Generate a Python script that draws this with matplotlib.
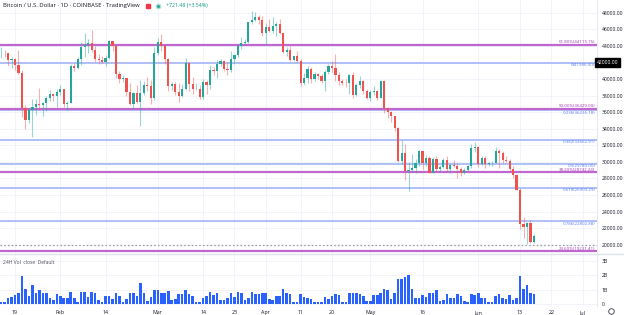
import matplotlib
matplotlib.use('Agg')
import matplotlib.pyplot as plt
import matplotlib.dates as mdates
import matplotlib.transforms as mtransforms
import pandas as pd

plt.rcParams['font.family'] = ['Open Sans', 'DejaVu Sans']

# daily candles, 2022-01-15 .. 2022-06-17
dates = pd.date_range('2022-01-15', '2022-06-17', freq='D')

opens = [43080, 43180, 43090, 42250, 42380, 41700, 40700, 36470, 35080, 36280, 36660, 36960, 36850, 37160, 37720, 38170, 37920,
         38480, 38740, 36950, 37150, 41570, 41380, 42410, 43840, 44110, 44380, 43540, 42400, 42250, 42090, 42580, 44580, 43960,
         40560, 40000, 40090, 38380, 37040, 38270, 37250, 38350, 39230, 39130, 37710,
         43190, 44420, 43920, 42450, 39150, 39400, 38420, 37990, 38740, 41980, 39440, 38730, 38810, 37790, 39670, 39280, 41140,
         40950, 41800, 42190, 41250, 41080, 42380, 42900, 43990, 44330, 44520, 46820, 47130, 47460, 47080,
         45540, 46280, 45820, 46440, 46600, 45510, 43200, 43450, 42290, 42780, 42200, 39530, 40090, 41150, 39950, 40560, 40400,
         39720, 40830, 41520, 41380, 40490, 39720, 39480, 39470, 40460, 38120, 39240, 39750, 38600,
         37650, 38470, 38530, 37750, 39700, 36540, 36020, 35500, 34060, 30090, 31020, 28940, 29040, 29280, 29850, 31300, 29860,
         30430, 28690, 30300, 29180, 29420, 30280, 29090, 29640, 29540, 29190, 28620, 29020, 29450, 31720,
         31790, 29800, 30450, 29690, 29860, 29910, 31360, 31120, 30200, 30100, 29080, 28410, 26580, 22470, 22130, 22580, 20380]
highs = [43800, 43480, 43180, 42680, 42580, 43500, 41100, 36830, 36500, 37550, 37550, 38920, 37230, 38000, 38720, 38360, 38740,
         39270, 38850, 37380, 41770, 41950, 42640, 44500, 45500, 44800, 45850, 43940, 43000, 42760, 42880, 44750, 44580, 44220,
         40980, 40480, 40130, 39500, 38450, 39280, 39840, 39700, 40270, 39870, 43880,
         44980, 45390, 44100, 42520, 39650, 39680, 39550, 39370, 42580, 42040, 40250, 39490, 39310, 39950, 39880, 41720, 41480,
         42330, 42400, 42320, 42000, 43370, 43000, 44200, 45100, 44800, 46900, 48200, 48100, 47700, 47600,
         46700, 47200, 47440, 46880, 47200, 45510, 43900, 43970, 42800, 43430, 42420, 40700, 41560, 41500, 40860, 40700, 40620,
         41120, 41760, 42200, 42990, 40800, 39990, 39950, 40640, 40800, 39460, 40380, 39930, 38800,
         38680, 39170, 38640, 39900, 39850, 36650, 36140, 35500, 34250, 32640, 32190, 30000, 31000, 30300, 31440, 31300, 30770,
         30650, 30530, 30740, 29600, 30420, 30650, 29830, 30180, 29840, 29360, 29200, 29580, 32200,
         32380, 31960, 30650, 30680, 29950, 30160, 31760, 31560, 31300, 30650, 30360, 29440, 28540, 26900, 23350, 22780, 22990, 21350]
lows = [42570, 42690, 41550, 41280, 41140, 40570, 35440, 34010, 34630, 32950, 35700, 36250, 35520, 36170, 37320, 37370, 36650,
        38020, 36630, 36250, 37050, 40960, 41150, 41690, 42690, 43150, 43200, 42000, 41780, 41880, 41580, 42450, 43350, 40120,
        39470, 39680, 38000, 36830, 36400, 37050, 34320, 38030, 38600, 37020, 37480,
        42850, 43350, 41850, 38600, 38620, 38090, 37180, 37880, 38660, 38550, 38240, 38680, 37580, 37580, 38130, 38850, 40530,
        40150, 41550, 40930, 40500, 40890, 41840, 42600, 43600, 44080, 44400, 46650, 46960, 46580, 45220,
        44220, 45630, 45520, 45150, 45380, 43110, 42750, 42110, 42130, 42000, 39200, 39250, 39570, 39570, 39780, 40020, 39560,
        38540, 40570, 40850, 39760, 39220, 39300, 39000, 38230, 37700, 37900, 38900, 38200, 37600,
        37390, 38050, 37510, 37700, 35860, 35270, 34780, 33700, 30040, 29750, 27780, 26530, 28730, 28650, 29460, 29100, 29450,
        28700, 28680, 28740, 28950, 29220, 28880, 28660, 29370, 28020, 28250, 28560, 28850, 29300,
        31220, 29340, 29570, 29300, 29460, 29500, 29890, 29230, 29860, 29980, 28870, 28110, 26560, 21920, 20850, 20080, 20230, 20260]
closes = [43180, 43090, 42250, 42380, 41700, 40700, 36470, 35080, 36280, 36660, 36960, 36850, 37160, 37720, 38170, 37920, 38480,
          38740, 36950, 37150, 41570, 41380, 42410, 43840, 44110, 44380, 43540, 42400, 42250, 42090, 42580, 44580, 43960, 40560,
          40000, 40090, 38380, 37040, 38270, 37250, 38350, 39230, 39130, 37710, 43190,
          44420, 43920, 42450, 39150, 39400, 38420, 37990, 38740, 41980, 39440, 38730, 38810, 37790, 39670, 39280, 41140, 40950,
          41800, 42190, 41250, 41080, 42380, 42900, 43990, 44330, 44520, 46820, 47130, 47460, 47080, 45540,
          46280, 45820, 46440, 46600, 45510, 43200, 43450, 42290, 42780, 42200, 39530, 40090, 41150, 39950, 40560, 40400, 39720,
          40830, 41520, 41380, 40490, 39720, 39480, 39470, 40460, 38120, 39240, 39750, 38600, 37650,
          38470, 38530, 37750, 39700, 36540, 36020, 35500, 34060, 30090, 31020, 28940, 29040, 29280, 29850, 31300, 29860, 30430,
          28690, 30300, 29180, 29420, 30280, 29090, 29640, 29540, 29190, 28620, 29020, 29450, 31720, 31790,
          29800, 30450, 29690, 29860, 29910, 31360, 31120, 30200, 30100, 29080, 28410, 26580, 22470, 22130, 22580, 20380, 21100]
# 24H volume, billions
volumes = [0.18, 0.18, 0.41, 0.53, 0.64, 0.76, 1.95, 1.03, 0.57, 1.33, 0.76, 0.99, 0.80, 0.80, 0.41, 0.30, 0.69,
           0.60, 0.46, 0.41, 0.83, 0.46, 0.18, 0.83, 0.83, 0.53, 0.83, 0.76, 0.30, 0.18, 0.57, 0.57, 0.37, 0.76,
           0.60, 0.18, 0.34, 0.76, 0.80, 0.57, 1.49, 0.76, 0.25, 0.48, 0.99,
           0.99, 0.76, 0.76, 0.92, 0.30, 0.34, 0.69, 0.69, 0.99, 0.69, 0.60, 0.18, 0.18, 0.46, 0.57, 0.87, 0.64,
           0.76, 0.30, 0.30, 0.46, 0.80, 0.53, 0.87, 0.80, 0.30, 0.46, 0.83, 0.69, 0.69, 0.80,
           0.80, 0.34, 0.30, 0.57, 0.57, 1.03, 0.76, 0.69, 0.18, 0.18, 0.69, 0.53, 0.41, 0.37, 0.18, 0.14, 0.14,
           0.48, 0.37, 0.57, 0.69, 0.64, 0.18, 0.18, 0.80, 0.80, 0.80, 0.71, 0.57, 0.23,
           0.23, 0.64, 0.64, 0.80, 1.03, 0.99, 0.34, 0.76, 1.72, 1.72, 1.84, 1.98, 1.05, 0.42, 0.42, 0.65, 0.53,
           0.80, 0.80, 0.97, 0.25, 0.30, 0.72, 0.42, 0.42, 0.72, 0.58, 0.20, 0.15, 0.72, 0.65,
           0.77, 0.46, 0.42, 0.15, 0.15, 0.60, 0.70, 0.46, 0.35, 0.65, 0.30, 0.46, 1.95, 1.05, 1.30, 0.80, 0.72]

fib_magenta = [44115.76, 36429.00, 28742.24, 19231.41]
fib_magenta_labels = ['61.80%(44115.76)', '50.00%(36429.00)', '38.20%(28742.24)', '23.60%(19231.41)']
fib_blue = [41986.00, 36236.18, 32662.91, 29780.00, 26903.29, 22802.88]
fib_blue_labels = ['0(41986.00)', '0.236(36236.18)', '0.382(32662.91)', '0.5(29780.00)', '0.618(26903.29)', '0.786(22802.88)']
dotted_level = 20000
marked_price = 42000

xtick_dates = ['2022-01-19', '2022-02-01', '2022-02-14', '2022-03-01', '2022-03-14', '2022-03-23', '2022-04-01',
               '2022-04-11', '2022-04-20', '2022-05-01', '2022-05-16', '2022-06-01', '2022-06-13', '2022-06-22', '2022-07-01']
xtick_labels = ['19', 'Feb', '14', 'Mar', '14', '23', 'Apr', '11', '20', 'May', '16', 'Jun', '13', '22', 'Jul']
price_ticks = list(range(20000, 48001, 2000))

UP, DOWN = '#26a69a', '#ef5350'
TXT = '#131722'
GRID = '#f0f3fa'

W, H = 624, 315
fig = plt.figure(figsize=(W / 100, H / 100), dpi=100)
ax = fig.add_axes([0, 1 - 253 / H, 597 / W, 253 / H])
axv = fig.add_axes([0, 1 - 306 / H, 597 / W, 52 / H], sharex=ax)

x = mdates.date2num(dates)
x0 = mdates.date2num(pd.Timestamp('2022-01-19'))

# candles
for xi, o, h, l, c in zip(x, opens, highs, lows, closes):
    col = UP if c >= o else DOWN
    ax.vlines(xi, l, h, color=col, alpha=0.45, lw=0.8, zorder=3)
    ax.bar(xi, max(abs(c - o), 60), bottom=min(o, c), width=0.62, color=col, lw=0, zorder=4)

# fib levels: blue labels sit under their line, magenta ones above
for lv in fib_blue:
    ax.axhline(lv, color='#a9bbf7', lw=1.3, zorder=2)
for lv in fib_magenta:
    ax.axhline(lv, color='#c066d0', lw=1.6, zorder=2)
ax.axhline(dotted_level, color='#9598a1', lw=0.9, ls=(0, (1.2, 1.8)), zorder=2)

tr = mtransforms.blended_transform_factory(ax.transAxes, ax.transData)
for lv, lab in zip(fib_blue, fib_blue_labels):
    ax.text(0.997, lv - 60, lab, transform=tr, ha='right', va='top', fontsize=3.2, color='#5b7cf0', zorder=5)
for lv, lab in zip(fib_magenta, fib_magenta_labels):
    ax.text(0.997, lv + 60, lab, transform=tr, ha='right', va='bottom', fontsize=3.2, color='#a03cb5', zorder=5)

ax.set_ylim(19000, 49530)
ax.set_xlim(x0 - 4.31, x0 + 167.1)
ax.yaxis.tick_right()
ax.set_yticks(price_ticks)
ax.set_yticklabels(['' if v == marked_price else f'{v:.2f}' for v in price_ticks])
ax.tick_params(axis='y', length=0, labelsize=3.6, labelcolor=TXT, pad=3.5)
ax.tick_params(axis='x', length=0, labelbottom=False)
ax.grid(True, color=GRID, lw=0.6, zorder=0)

# black price tag on the scale
ax.text(1.0, marked_price, f'{marked_price:.2f}', transform=tr, ha='left', va='center', fontsize=3.6, color='white',
        clip_on=False, bbox=dict(boxstyle='square,pad=0.35', fc='black', ec='black'), zorder=6)

# volume panel
axv.bar(x, volumes, width=0.74, color='#2962ff', lw=0, zorder=3)
axv.set_ylim(-0.12, 3.45)
axv.yaxis.tick_right()
axv.set_yticks([0, 1, 2, 3])
axv.set_yticklabels(['0', '1B', '2B', '3B'])
axv.tick_params(axis='y', length=0, labelsize=3.6, labelcolor=TXT, pad=3.5)
axv.set_xticks(mdates.date2num(pd.to_datetime(xtick_dates)))
axv.set_xticklabels(xtick_labels)
axv.tick_params(axis='x', length=0, labelsize=3.8, labelcolor=TXT, pad=3)
axv.grid(True, color=GRID, lw=0.6, zorder=0)
axv.text(0.005, 0.8, '24H Vol  close  Default', transform=axv.transAxes, fontsize=3.6, color='#50535e')

for a in (ax, axv):
    for s in ('top', 'left', 'bottom'):
        a.spines[s].set_visible(False)
    a.spines['right'].set_color('#e0e3eb')
    a.spines['right'].set_linewidth(0.6)
fig.add_artist(plt.Line2D([0, 1], [1 - 254 / H] * 2, color='#e0e3eb', lw=1.0))

# header
fig.text(3 / W, 1 - 6 / H, 'Bitcoin / U.S. Dollar · 1D · COINBASE · TradingView', fontsize=4.2, color=TXT, va='center')
fig.add_artist(plt.Line2D([148 / W], [1 - 6 / H], marker='s', ms=3.2, color='#f23645', lw=0))
fig.add_artist(plt.Line2D([158 / W], [1 - 6 / H], marker='o', ms=3.2, mfc='#26a69a', mec='#b2dfdb', mew=1.0, lw=0))
fig.text(166 / W, 1 - 6 / H, '+721.48 (+3.54%)', fontsize=3.8, color='#089981', va='center')

# gear icon
fig.add_artist(plt.Line2D([611 / W], [1 - 311 / H], marker='o', ms=4, mfc='none', mec='#50535e', mew=0.7, lw=0))

fig.savefig('out.png', dpi=100, facecolor='white')
